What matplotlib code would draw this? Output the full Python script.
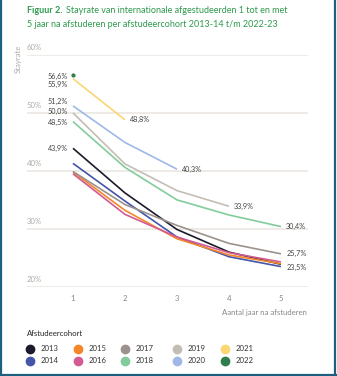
import matplotlib.pyplot as plt
from matplotlib.lines import Line2D
import numpy as np

plt.rcParams['font.family'] = ['Lato', 'DejaVu Sans']

# Stayrate (%) per cohort, jaar 1..5 na afstuderen
years = [1, 2, 3, 4, 5]
cohorts = ["2013", "2014", "2015", "2016", "2017", "2018", "2019", "2020", "2021", "2022"]
s2013 = [43.9, 36.2, 29.9, 26.0, 23.9]
s2014 = [41.3, 34.8, 28.6, 25.2, 23.5]
s2015 = [39.8, 33.2, 28.3, 25.5, 24.0]
s2016 = [39.5, 32.5, 28.6, 25.9, 24.3]
s2017 = [39.9, 34.2, 30.6, 27.5, 25.7]
s2018 = [48.5, 40.6, 35.0, 32.4, 30.4]
s2019 = [50.0, 41.2, 36.6, 33.9]
s2020 = [51.2, 44.9, 40.3]
s2021 = [55.9, 48.8]
s2022 = [56.6]
series = [s2013, s2014, s2015, s2016, s2017, s2018, s2019, s2020, s2021, s2022]

colors = ["#1b1b2b", "#4355a8", "#f5862a", "#d35a92", "#9c928d",
          "#82cc9c", "#c4bdb4", "#9fb8e8", "#fad772", "#2f7f4c"]

# labels at first point (text y positions in %, to avoid overlap)
start_labels = [("56,6%", 56.2), ("55,9%", 54.9), ("51,2%", 52.0), ("50,0%", 50.3),
                ("48,5%", 48.3), ("43,9%", 43.9)]
# labels at last points
end_labels = [(2, 48.8, "48,8%"), (3, 40.3, "40,3%"), (4, 33.9, "33,9%"),
              (5, 30.4, "30,4%"), (5, 25.7, "25,7%"), (5, 23.3, "23,5%")]

fig = plt.figure(figsize=(3.37, 3.76), dpi=100)
ax = fig.add_axes([0.08, 0.237, 0.834, 0.617])

for s, c in zip(series, colors):
    if len(s) > 1:
        ax.plot(years[:len(s)], s, color=c, lw=1.2, solid_capstyle='butt', zorder=3)
    else:
        ax.plot(years[:len(s)], s, 'o', color=c, ms=2, zorder=3)

for txt, yv in start_labels:
    ax.text(0.9, yv, txt, ha='right', va='center', fontsize=5.2, color='#444444')
for xv, yv, txt in end_labels:
    ax.text(xv + 0.1, yv, txt, ha='left', va='center', fontsize=5.2, color='#444444')

ax.set_xlim(0.115, 5.52)
ax.set_ylim(20, 60)
for v in [20, 30, 40, 50, 60]:
    ax.axhline(v, color='#ebe7e2', lw=1.2, zorder=1)
    ax.text(0.0, v + 0.6, f"{v}%", transform=ax.get_yaxis_transform(),
            ha='left', va='bottom', fontsize=5.6, color='#b0aaa6')
ax.set_yticks([])
ax.set_xticks(years)
ax.set_xticklabels([str(y) for y in years], fontsize=5.6, color='#8a8582')
ax.tick_params(axis='x', length=0, pad=6)
for sp in ax.spines.values():
    sp.set_visible(False)

fig.text(0.054, 0.843, "Stayrate", rotation=90, ha='center', va='center',
         fontsize=5.6, color='#b0aaa6')
fig.text(0.912, 0.17, "Aantal jaar na afstuderen", ha='right', va='center',
         fontsize=5.6, color='#8a8582')

# title
fig.text(0.08, 0.971, "Figuur 2.", ha='left', va='center', fontsize=6.5,
         color='#2e9a4e', fontweight='bold')
fig.text(0.195, 0.971, "Stayrate van internationale afgestudeerden 1 tot en met",
         ha='left', va='center', fontsize=6.5, color='#2e9a4e')
fig.text(0.08, 0.934, "5 jaar na afstuderen per afstudeercohort 2013-14 t/m 2022-23",
         ha='left', va='center', fontsize=6.5, color='#2e9a4e')

# legend
fig.text(0.08, 0.112, "Afstudeercohort", ha='left', va='center', fontsize=5.6, color='#222222')
col_x = [0.09, 0.232, 0.372, 0.526, 0.668]
row_y = [0.072, 0.04]
for i, (lab, c) in enumerate(zip(cohorts, colors)):
    cx = col_x[i // 2]
    cy = row_y[i % 2]
    fig.add_artist(Line2D([cx], [cy], marker='o', ms=6, color=c, lw=0,
                          transform=fig.transFigure))
    fig.text(cx + 0.03, cy, lab, ha='left', va='center', fontsize=5.6, color='#333333')

# frame
border = '#1d5f7e'
fig.add_artist(Line2D([0.003, 0.003], [0, 1], color=border, lw=1.6, transform=fig.transFigure))
fig.add_artist(Line2D([0.995, 0.995], [0, 1], color=border, lw=1.6, transform=fig.transFigure))
fig.add_artist(Line2D([0, 1], [0.003, 0.003], color=border, lw=1.6, transform=fig.transFigure))

fig.savefig("out.png", dpi=100)
